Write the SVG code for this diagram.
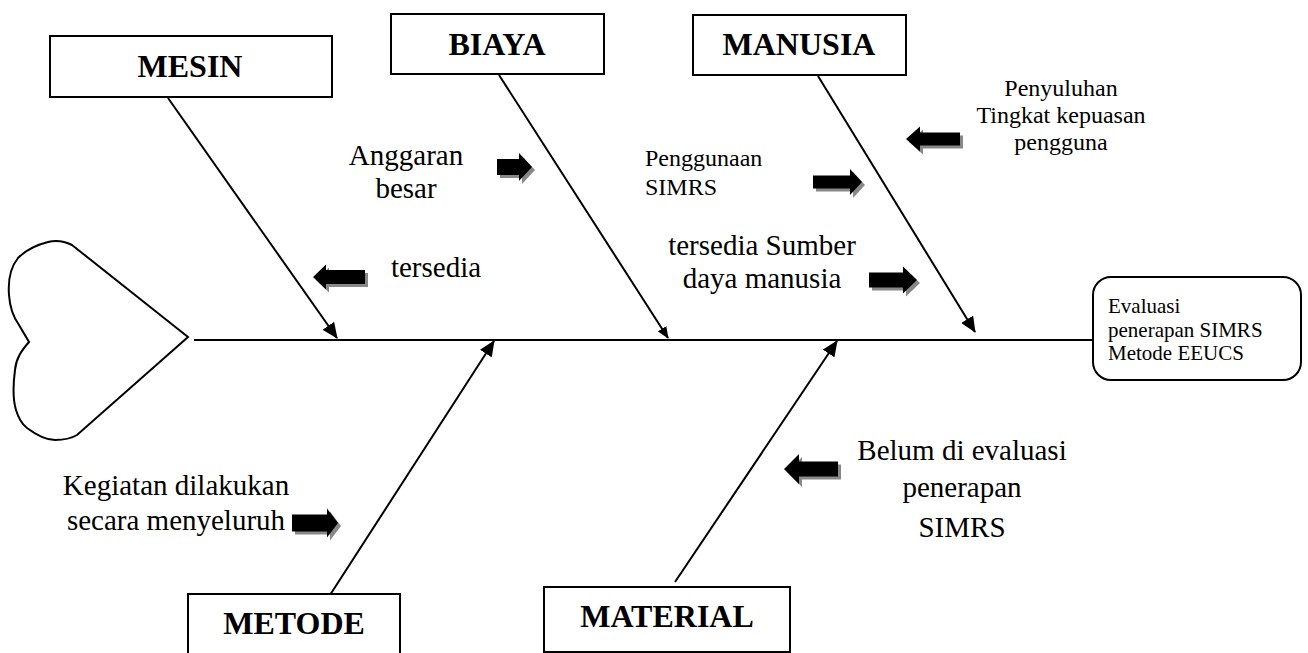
<svg xmlns="http://www.w3.org/2000/svg" width="1308" height="653" viewBox="0 0 1308 653">
<style>
.box{fill:#fff;stroke:#000;stroke-width:2}
.ttl{font-family:"Liberation Serif","Times New Roman","DejaVu Serif",serif;font-weight:bold;font-size:32px;fill:#000;text-anchor:middle}
.lbl{font-family:"Liberation Serif","Times New Roman","DejaVu Serif",serif;font-size:29px;fill:#000}
.sm{font-family:"Liberation Serif","Times New Roman","DejaVu Serif",serif;font-size:24px;fill:#000}
.ev{font-family:"Liberation Serif","Times New Roman","DejaVu Serif",serif;font-size:21px;fill:#000}
.bone{stroke:#000;stroke-width:2;fill:none}
.sh{fill:#888}
.ar{fill:#000}
</style>
<defs>
<marker id="ah" markerUnits="userSpaceOnUse" markerWidth="16" markerHeight="14" viewBox="0 0 16 14" refX="15" refY="7" orient="auto">
<path d="M0,0 L16,7 L0,14 Z" fill="#000"/>
</marker>
<marker id="ahs" markerUnits="userSpaceOnUse" markerWidth="12" markerHeight="10" viewBox="0 0 12 10" refX="11" refY="5" orient="auto">
<path d="M0,0 L12,5 L0,10 Z" fill="#000"/>
</marker>
</defs>

<g id="heart">
<path d="M188,337 L72,245 C64,241 56,240 48,242 C36,245 26,250 18,258 C10,268 8,282 9,295 C10,310 14,318 19,325 L29,342 C22,350 16,358 15,370 C13,385 13,400 16,410 C19,420 23,425 27,428 C35,434 45,440 55,440 C64,440 72,438 77,435 Z" fill="#fff" stroke="#000" stroke-width="2"/>
</g>

<g id="connectors">
<line class="bone" x1="194" y1="340" x2="1093" y2="340"/>
<line class="bone" x1="168" y1="98" x2="337" y2="338" marker-end="url(#ah)"/>
<line class="bone" x1="499" y1="75" x2="668" y2="338" marker-end="url(#ahs)"/>
<line class="bone" x1="818" y1="76" x2="975" y2="332" marker-end="url(#ah)"/>
<line class="bone" x1="330" y1="595" x2="494" y2="341" marker-end="url(#ah)"/>
<line class="bone" x1="675" y1="582" x2="837" y2="341" marker-end="url(#ah)"/>
</g>

<g id="mesin">
<rect class="box" x="50" y="36" width="282" height="61"/>
<text class="ttl" x="190" y="77">MESIN</text>
</g>
<g id="biaya">
<rect class="box" x="391" y="14" width="213" height="60"/>
<text class="ttl" x="497" y="55">BIAYA</text>
</g>
<g id="manusia">
<rect class="box" x="693" y="15" width="213" height="60"/>
<text class="ttl" x="799" y="55">MANUSIA</text>
</g>
<g id="metode">
<rect class="box" x="188" y="594" width="212" height="80"/>
<text class="ttl" x="294" y="634">METODE</text>
</g>
<g id="material">
<rect class="box" x="544" y="587" width="246" height="65"/>
<text class="ttl" x="667" y="627">MATERIAL</text>
</g>
<g id="evaluasi">
<rect class="box" x="1093" y="277" width="208" height="103" rx="18"/>
<text class="ev" x="1108" y="313">Evaluasi</text>
<text class="ev" x="1108" y="337">penerapan SIMRS</text>
<text class="ev" x="1108" y="360">Metode EEUCS</text>
</g>

<g id="label-anggaran">
<text class="lbl" x="406" y="165" text-anchor="middle">Anggaran</text>
<text class="lbl" x="406" y="198" text-anchor="middle">besar</text>
<path class="sh" d="M500,162 H522 V156 L535,170 L522,184 V178 H500 Z"/>
<path class="ar" d="M497,159 H519 V153 L532,167 L519,181 V175 H497 Z"/>
</g>
<g id="label-tersedia">
<text class="lbl" x="436" y="277" text-anchor="middle">tersedia</text>
<path class="sh" d="M368,273 H329 V267.5 L316,280 L329,292.5 V287 H368 Z"/>
<path class="ar" d="M365,270 H326 V264.5 L313,277 L326,289.5 V284 H365 Z"/>
</g>
<g id="label-penggunaan">
<text class="sm" x="645" y="166">Penggunaan</text>
<text class="sm" x="645" y="195">SIMRS</text>
<path class="sh" d="M816,178.5 H853 V172 L865,185 L853,198 V191.5 H816 Z"/>
<path class="ar" d="M813,175.5 H850 V169 L862,182 L850,195 V188.5 H813 Z"/>
</g>
<g id="label-penyuluhan">
<text class="sm" x="1061" y="96" text-anchor="middle">Penyuluhan</text>
<text class="sm" x="1061" y="123" text-anchor="middle">Tingkat kepuasan</text>
<text class="sm" x="1061" y="150" text-anchor="middle">pengguna</text>
<path class="sh" d="M963,135.5 H923 V129.5 L909,142 L923,154.5 V148.5 H963 Z"/>
<path class="ar" d="M960,132.5 H920 V126.5 L906,139 L920,151.5 V145.5 H960 Z"/>
</g>
<g id="label-sdm">
<text class="lbl" x="762" y="255" text-anchor="middle">tersedia Sumber</text>
<text class="lbl" x="762" y="288" text-anchor="middle">daya manusia</text>
<path class="sh" d="M872,275.5 H906 V269.5 L920,283 L906,296.5 V290.5 H872 Z"/>
<path class="ar" d="M869,272.5 H903 V266.5 L917,280 L903,293.5 V287.5 H869 Z"/>
</g>
<g id="label-kegiatan">
<text class="lbl" x="176" y="495" text-anchor="middle">Kegiatan dilakukan</text>
<text class="lbl" x="176" y="530" text-anchor="middle">secara menyeluruh</text>
<path class="sh" d="M295,517.5 H330 V511.5 L341,526 L330,540.5 V534.5 H295 Z"/>
<path class="ar" d="M292,514.5 H327 V508.5 L338,523 L327,537.5 V531.5 H292 Z"/>
</g>
<g id="label-belum">
<text class="lbl" x="962" y="460" text-anchor="middle">Belum di evaluasi</text>
<text class="lbl" x="962" y="497" text-anchor="middle">penerapan</text>
<text class="lbl" x="962" y="537" text-anchor="middle">SIMRS</text>
<path class="sh" d="M841,464.5 H802 V457 L787,472 L802,487 V479.5 H841 Z"/>
<path class="ar" d="M838,461.5 H799 V454 L784,469 L799,484 V476.5 H838 Z"/>
</g>
</svg>
